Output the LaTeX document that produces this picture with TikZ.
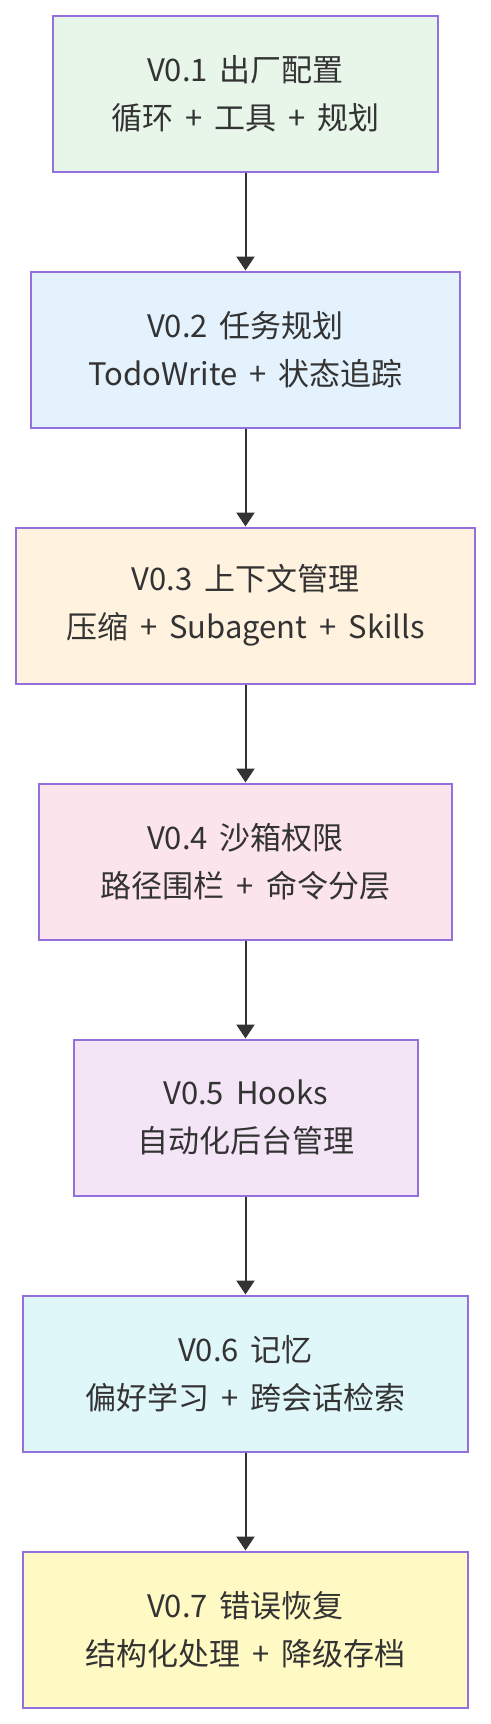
\documentclass[tikz,border=0pt]{standalone}
\usepackage{fontspec}
\setmainfont{Noto Sans CJK SC}
\usetikzlibrary{arrows.meta}
\definecolor{txt}{HTML}{333333}
\definecolor{rim}{HTML}{9370DB}
\definecolor{fillA}{HTML}{E8F5E9}
\definecolor{fillB}{HTML}{E3F2FD}
\definecolor{fillC}{HTML}{FFF3E0}
\definecolor{fillD}{HTML}{FCE4EC}
\definecolor{fillE}{HTML}{F3E5F5}
\definecolor{fillF}{HTML}{E0F7FA}
\definecolor{fillG}{HTML}{FFF9C4}

\begin{document}
\begin{tikzpicture}[
    x=0.5pt, y=-0.5pt,
    stage/.style={rectangle, draw=rim, line width=1pt, minimum height=78pt,
        inner sep=0pt, align=center, text=txt,
        font=\fontsize{15.5}{24}\selectfont,
        execute at begin node={\spaceskip=6pt plus 1pt\relax}},
    edge/.style={draw=txt, line width=1pt, -{Triangle[width=9pt, length=7pt]}}
]
    \useasboundingbox (0,0) rectangle (491,1724);
    \node[stage, fill=fillA, minimum width=192.5pt] (v01) at (245.5,93.5) {V0.1 出厂配置\\循环 + 工具 + 规划};
    \node[stage, fill=fillB, minimum width=214.5pt] (v02) at (245.5,349.5) {V0.2 任务规划\\TodoWrite + 状态追踪};
    \node[stage, fill=fillC, minimum width=229.5pt] (v03) at (245.5,605.5) {V0.3 上下文管理\\压缩 + Subagent + Skills};
    \node[stage, fill=fillD, minimum width=206.5pt] (v04) at (245.5,861.5) {V0.4 沙箱权限\\路径围栏 + 命令分层};
    \node[stage, fill=fillE, minimum width=172pt] (v05) at (245.5,1117.5) {V0.5 Hooks\\自动化后台管理};
    \node[stage, fill=fillF, minimum width=222.5pt] (v06) at (245.5,1373.5) {V0.6 记忆\\偏好学习 + 跨会话检索};
    \node[stage, fill=fillG, minimum width=222.5pt] (v07) at (245.5,1629.5) {V0.7 错误恢复\\结构化处理 + 降级存档};
    \draw[edge] (v01) -- (v02);
    \draw[edge] (v02) -- (v03);
    \draw[edge] (v03) -- (v04);
    \draw[edge] (v04) -- (v05);
    \draw[edge] (v05) -- (v06);
    \draw[edge] (v06) -- (v07);
\end{tikzpicture}
\end{document}
